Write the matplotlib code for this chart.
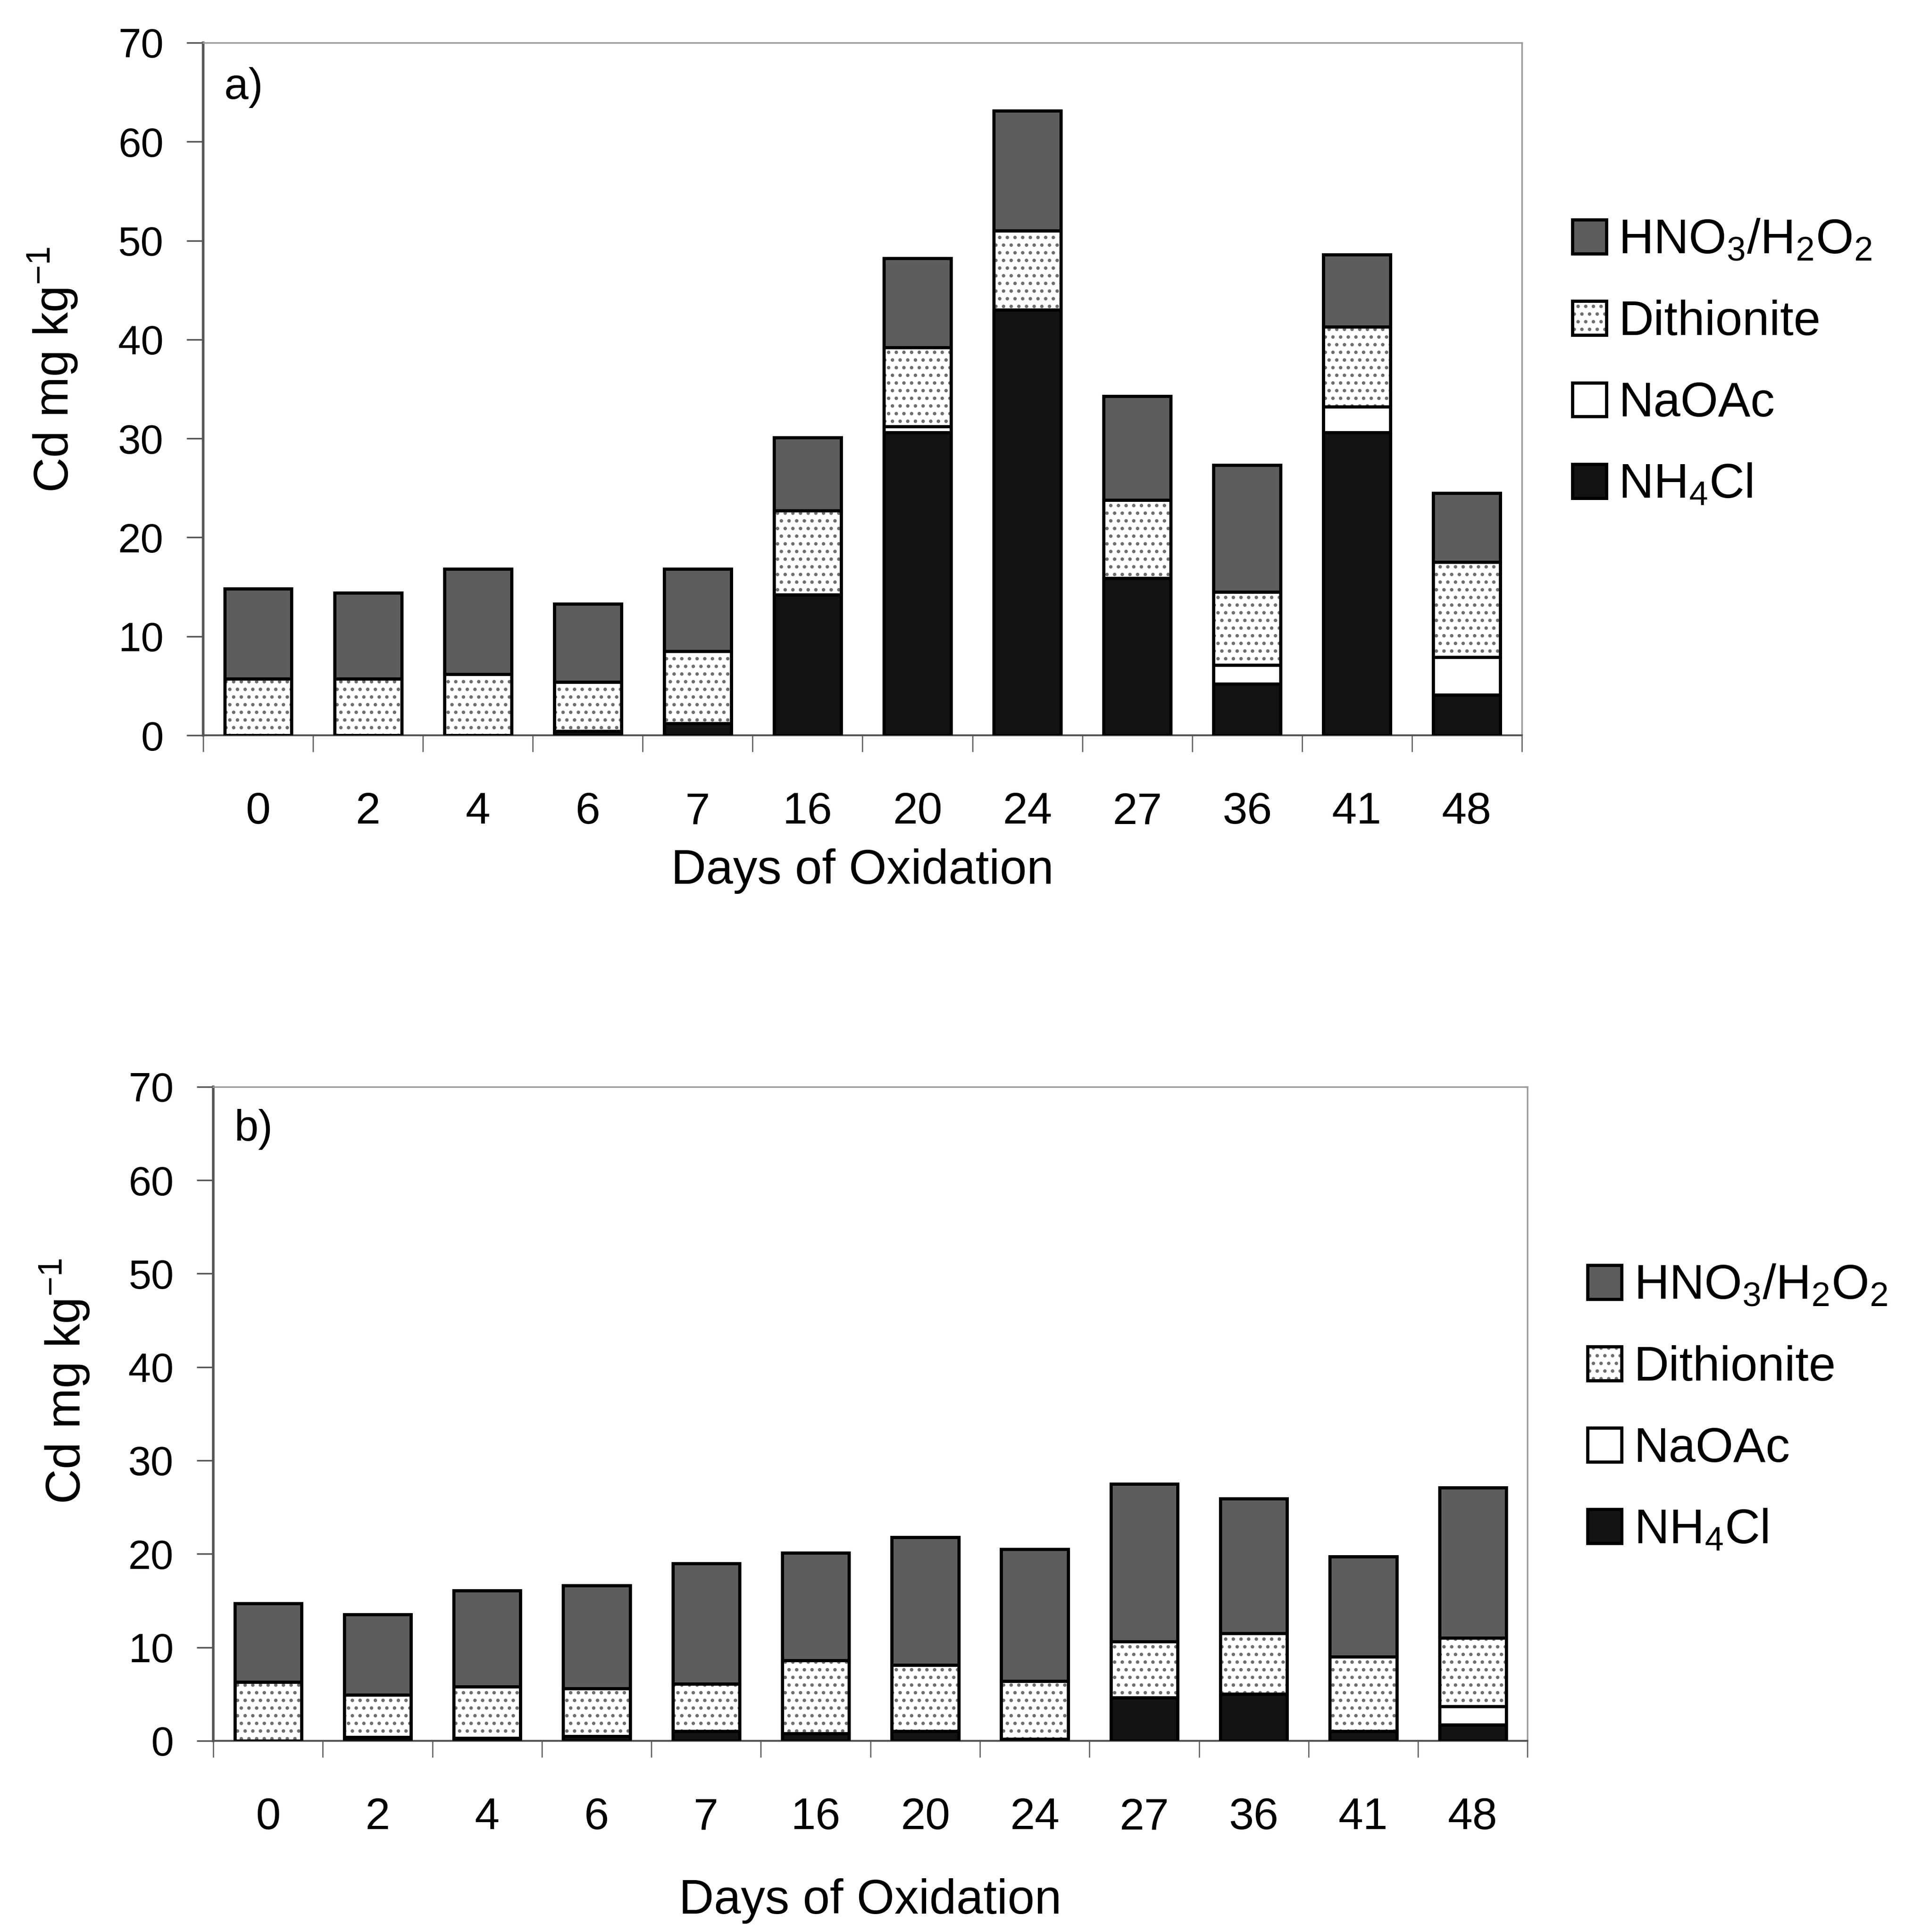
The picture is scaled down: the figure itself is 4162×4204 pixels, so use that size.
import numpy as np
import matplotlib
matplotlib.use("Agg")
import matplotlib.pyplot as plt
from matplotlib.patches import Patch
from matplotlib.legend_handler import HandlerTuple

plt.rcParams['font.family'] = ['Liberation Sans', 'DejaVu Sans']
plt.rcParams['mathtext.default'] = 'regular'
plt.rcParams['hatch.linewidth'] = 3.0

# --- data: Cd fractions (mg/kg) per sampling day ---
days = ['0', '2', '4', '6', '7', '16', '20', '24', '27', '36', '41', '48']
fractions = ['NH$_4$Cl', 'NaOAc', 'Dithionite', 'HNO$_3$/H$_2$O$_2$']

# panel a) -- segment sizes, bottom to top
a_nh4cl = [0.0, 0.0, 0.0, 0.4, 1.2, 14.2, 30.6, 43.0, 15.9, 5.2, 30.6, 4.1]
a_naoac = [0.0, 0.0, 0.0, 0.0, 0.0, 0.0, 0.6, 0.0, 0.0, 1.9, 2.6, 3.8]
a_dith = [5.7, 5.7, 6.2, 5.0, 7.3, 8.5, 8.0, 8.0, 7.9, 7.4, 8.1, 9.6]
a_hno3 = [9.1, 8.7, 10.6, 7.9, 8.3, 7.4, 9.0, 12.1, 10.5, 12.8, 7.3, 7.0]

# panel b)
b_nh4cl = [0.0, 0.4, 0.3, 0.5, 1.0, 0.8, 1.0, 0.2, 4.6, 5.0, 1.0, 1.7]
b_naoac = [0.0, 0.0, 0.0, 0.0, 0.0, 0.0, 0.0, 0.0, 0.0, 0.0, 0.0, 2.0]
b_dith = [6.3, 4.5, 5.5, 5.1, 5.1, 7.8, 7.1, 6.2, 6.0, 6.5, 8.0, 7.3]
b_hno3 = [8.4, 8.6, 10.3, 11.0, 12.9, 11.5, 13.7, 14.1, 16.9, 14.4, 10.7, 16.1]

c_hno3 = '#5d5d5d'
c_nh4 = '#131313'
dot_col = '#6e6e6e'
edge_lw = 5.0
bar_w = 0.61


def draw_panel(ax, nh4, naoac, dith, hno3, tag):
    x = np.arange(len(days))
    nh4 = np.array(nh4)
    naoac = np.array(naoac)
    dith = np.array(dith)
    hno3 = np.array(hno3)
    b1 = nh4
    b2 = b1 + naoac
    b3 = b2 + dith

    ax.bar(x, nh4, bar_w, color=c_nh4, edgecolor='black', linewidth=edge_lw, zorder=3)
    ax.bar(x, naoac, bar_w, bottom=b1, color='white', edgecolor='black', linewidth=edge_lw, zorder=3)
    # dotted fill first, black outline on top
    ax.bar(x, dith, bar_w, bottom=b2, color='white', edgecolor=dot_col, hatch='.', linewidth=0, zorder=3)
    ax.bar(x, dith, bar_w, bottom=b2, fill=False, edgecolor='black', linewidth=edge_lw, zorder=4)
    ax.bar(x, hno3, bar_w, bottom=b3, color=c_hno3, edgecolor='black', linewidth=edge_lw, zorder=3)

    ax.set_xlim(-0.5, len(days) - 0.5)
    ax.set_ylim(0, 70)
    ax.set_yticks(np.arange(0, 71, 10))
    ax.tick_params(axis='y', labelsize=64, length=26, width=2.5, color='#555555', pad=36)

    # ticks sit between categories, labels under the bars
    ax.set_xticks(np.arange(-0.5, len(days), 1.0))
    ax.set_xticklabels([])
    ax.set_xticks(x, minor=True)
    ax.set_xticklabels(days, minor=True)
    ax.tick_params(axis='x', which='major', length=26, width=2.0, color='#666666')
    ax.tick_params(axis='x', which='minor', length=0, labelsize=70, pad=88)

    for side in ['top', 'right']:
        ax.spines[side].set_color('#9a9a9a')
        ax.spines[side].set_linewidth(2.5)
    ax.spines['left'].set_color('#555555')
    ax.spines['left'].set_linewidth(4)
    ax.spines['bottom'].set_color('#555555')
    ax.spines['bottom'].set_linewidth(3)

    ax.set_xlabel('Days of Oxidation', fontsize=76)
    ax.xaxis.label.set_va('center')
    ax.set_ylabel('Cd mg kg$^{-1}$', fontsize=76)
    ax.yaxis.label.set_va('center')

    ax.text(0.016, 0.935, tag, transform=ax.transAxes, fontsize=68, va='center', ha='left')


def legend_handles():
    h_hno3 = Patch(facecolor=c_hno3, edgecolor='black', linewidth=edge_lw)
    h_dot = (Patch(facecolor='white', edgecolor=dot_col, hatch='.', linewidth=0),
             Patch(fill=False, edgecolor='black', linewidth=edge_lw))
    h_na = Patch(facecolor='white', edgecolor='black', linewidth=edge_lw)
    h_nh4 = Patch(facecolor=c_nh4, edgecolor='black', linewidth=edge_lw)
    return [h_hno3, h_dot, h_na, h_nh4], fractions[::-1]


fig = plt.figure(figsize=(41.62, 42.04), dpi=100)
ax_a = fig.add_axes([0.1062, 0.6194, 0.6893, 0.3585])
ax_b = fig.add_axes([0.1115, 0.0990, 0.6870, 0.3385])

draw_panel(ax_a, a_nh4cl, a_naoac, a_dith, a_hno3, 'a)')
draw_panel(ax_b, b_nh4cl, b_naoac, b_dith, b_hno3, 'b)')

ax_a.xaxis.set_label_coords(0.5, -0.196)
ax_a.yaxis.set_label_coords(-0.114, 0.528)
ax_b.xaxis.set_label_coords(0.5, -0.245)
ax_b.yaxis.set_label_coords(-0.113, 0.55)

for anchor in [(0.822, 0.812), (0.830, 0.271)]:
    handles, labels = legend_handles()
    fig.legend(handles, labels, loc='center left', bbox_to_anchor=anchor,
               frameon=False, fontsize=76, handlelength=0.70, handleheight=0.70,
               handletextpad=0.25, labelspacing=0.74, borderpad=0, borderaxespad=0,
               handler_map={tuple: HandlerTuple(ndivide=1, pad=0)})

fig.savefig('out.png', dpi=100, facecolor='white')
